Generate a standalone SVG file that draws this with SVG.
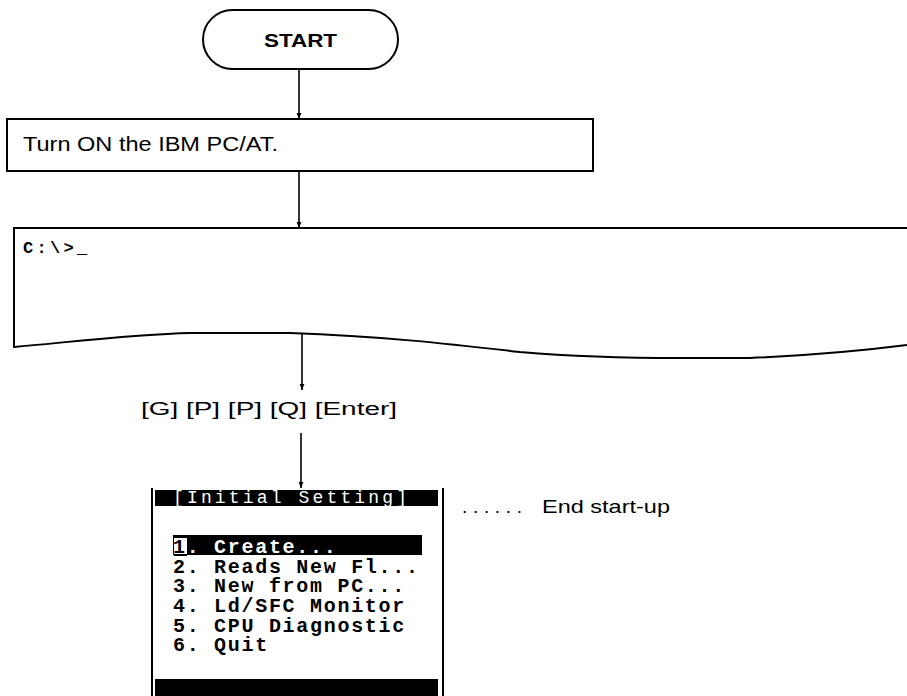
<svg xmlns="http://www.w3.org/2000/svg" width="907" height="696" viewBox="0 0 907 696">
<style>
  .box { fill: #fff; stroke: #000; stroke-width: 2; }
  .sans { font-family: "Liberation Sans", Arial, sans-serif; fill: #000; }
  .mono { font-family: "Liberation Mono", "DejaVu Sans Mono", monospace; font-weight: bold; }
  .item { font-size: 20px; letter-spacing: 1.7px; }
  .conn { stroke: #000; stroke-width: 1.6; fill: none; marker-end: url(#arrow); }
</style>
<defs>
  <marker id="arrow" viewBox="0 0 10 10" refX="10" refY="5" markerWidth="6" markerHeight="6" markerUnits="userSpaceOnUse" orient="auto">
    <path d="M0,1 L10,5 L0,9 Z" fill="#000"/>
  </marker>
</defs>
<rect x="0" y="0" width="907" height="696" fill="#fff"/>

<g id="start">
  <rect class="box" x="203" y="10" width="195" height="59" rx="29.5" ry="29.5" stroke-width="1.6"/>
  <text class="sans" x="264" y="47" font-size="19" font-weight="bold" textLength="73" lengthAdjust="spacingAndGlyphs">START</text>
</g>

<g id="turn-on">
  <rect class="box" x="7" y="119" width="586" height="52"/>
  <text class="sans" x="23" y="151" font-size="19.5" textLength="255" lengthAdjust="spacingAndGlyphs">Turn ON the IBM PC/AT.</text>
</g>

<g id="dos-prompt">
  <path class="box" d="M907,228 L14,228 L14,347 C80,341 140,334 190,333 L290,333 C380,336 450,344 520,352 C580,357 630,358 680,358 L750,358 C820,355 860,351 907,345"/>
  <text class="mono" x="23" y="253" font-size="17" letter-spacing="3.3" fill="#000">C:\&gt;_</text>
</g>

<g id="key-label">
  <text class="sans" x="141" y="415" font-size="18" textLength="256" lengthAdjust="spacingAndGlyphs">[G] [P] [P] [Q] [Enter]</text>
</g>

<g id="menu">
  <line x1="152" y1="488" x2="152" y2="696" stroke="#000" stroke-width="2"/>
  <line x1="443" y1="488" x2="443" y2="696" stroke="#000" stroke-width="2"/>
  <rect x="155" y="490" width="283" height="16" fill="#000"/>
  <text x="173" y="503" font-family="'Liberation Mono', 'DejaVu Sans Mono', monospace" font-size="18" fill="#fff" textLength="234" lengthAdjust="spacing">[Initial Setting]</text>
  <rect x="173" y="535" width="249" height="20" fill="#000"/>
  <rect x="174" y="538" width="13" height="17" fill="#fff"/>
  <line x1="174" y1="555" x2="187" y2="555" stroke="#000" stroke-width="2"/>
  <text class="mono item" x="173" y="553" fill="#000">1</text>
  <text class="mono item" x="186.7" y="553" fill="#fff">. Create...</text>
  <text class="mono item" x="173" y="573" fill="#000">2. Reads New Fl...</text>
  <text class="mono item" x="173" y="592" fill="#000">3. New from PC...</text>
  <text class="mono item" x="173" y="612" fill="#000">4. Ld/SFC Monitor</text>
  <text class="mono item" x="173" y="632" fill="#000">5. CPU Diagnostic</text>
  <text class="mono item" x="173" y="651" fill="#000">6. Quit</text>
  <rect x="155" y="679" width="283" height="17" fill="#000"/>
</g>

<g id="end-note">
  <text class="sans" font-size="19" y="513"><tspan x="462" textLength="60" lengthAdjust="spacing">......</tspan><tspan x="542" textLength="128" lengthAdjust="spacingAndGlyphs">End start-up</tspan></text>
</g>

<g id="connectors">
  <line class="conn" x1="299" y1="69" x2="299" y2="119"/>
  <line class="conn" x1="299" y1="171" x2="299" y2="228"/>
  <line class="conn" x1="302" y1="334" x2="302" y2="390"/>
  <line class="conn" x1="301" y1="433" x2="301" y2="488"/>
</g>
</svg>
